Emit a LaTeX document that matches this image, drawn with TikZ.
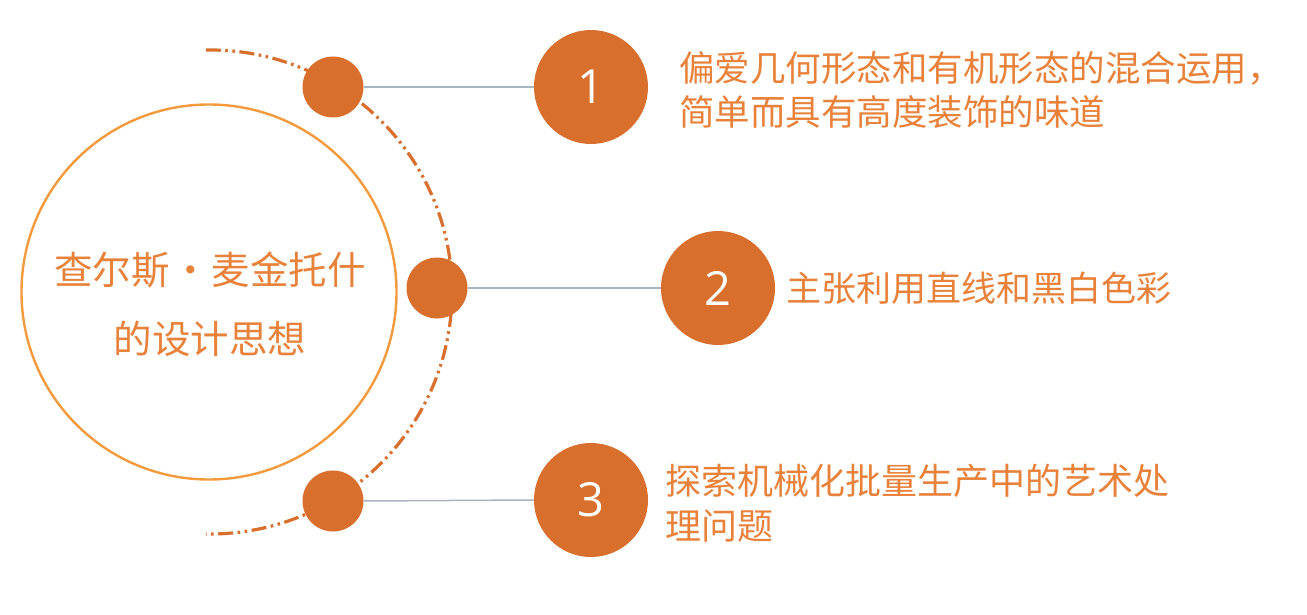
\documentclass[tikz,border=0pt]{standalone}
\usepackage{fontspec}
\setmainfont{Noto Sans CJK SC}
\newfontfamily\numfont{Open Sans}
\definecolor{dotorange}{HTML}{D86F2D}
\definecolor{ringorange}{HTML}{F39A3D}
\definecolor{txtorange}{HTML}{E8823A}
\definecolor{linkgray}{HTML}{A9B4C2}
\tikzset{
  smalldot/.style={circle,fill=dotorange,minimum size=61pt,inner sep=0pt},
  bignum/.style={circle,fill=dotorange,minimum size=114pt,inner sep=0pt,text=white,font=\numfont\fontsize{47}{47}\selectfont},
  link/.style={draw=linkgray,line width=1.5pt},
  itemtext/.style={text=txtorange,align=left,anchor=west,inner sep=0pt,font=\fontsize{35.5}{44.5}\selectfont},
  arcline/.style={draw=dotorange,line width=3.2pt,dash pattern=on 15pt off 4.5pt on 2.6pt off 4.5pt on 2.6pt off 4.5pt}
}
\begin{document}
\begin{tikzpicture}[x=1pt,y=-1pt]
\useasboundingbox (0,0) rectangle (1307,615);
% main ring
\node[circle,draw=ringorange,line width=2.4pt,minimum size=375pt,inner sep=0pt] (ring) at (209,292) {};
\node[text=txtorange,align=center,font=\fontsize{38.5}{69}\selectfont] (title) at (210,304) {查尔斯\hspace{2pt}·\hspace{2pt}麦金托什\\的设计思想};
% dash-dot arc
\coordinate (arcc) at (210,292);
\draw[arcline] (arcc) ++(-91:242) arc[start angle=-91,end angle=91,radius=242];
% small circles
\node[smalldot] (s1) at (333,87) {};
\node[smalldot] (s2) at (437,288) {};
\node[smalldot] (s3) at (333,501) {};
% big numbered circles
\node[bignum] (n1) at (591,87) {1};
\node[bignum] (n2) at (718,288) {2};
\node[bignum] (n3) at (591,500) {3};
% connectors
\draw[link] (s1.east) -- (n1.west);
\draw[link] (s2.east) -- (n2.west);
\draw[link] (s3.east) -- (n3.west);
% texts
\node[itemtext] (t1) at (679,90) {偏爱几何形态和有机形态的混合运用，\\简单而具有高度装饰的味道};
\node[itemtext,font=\fontsize{35}{44.5}\selectfont] (t2) at (786,288) {主张利用直线和黑白色彩};
\node[itemtext,font=\fontsize{36}{45}\selectfont] (t3) at (665,503) {探索机械化批量生产中的艺术处\\理问题};
\end{tikzpicture}
\end{document}
